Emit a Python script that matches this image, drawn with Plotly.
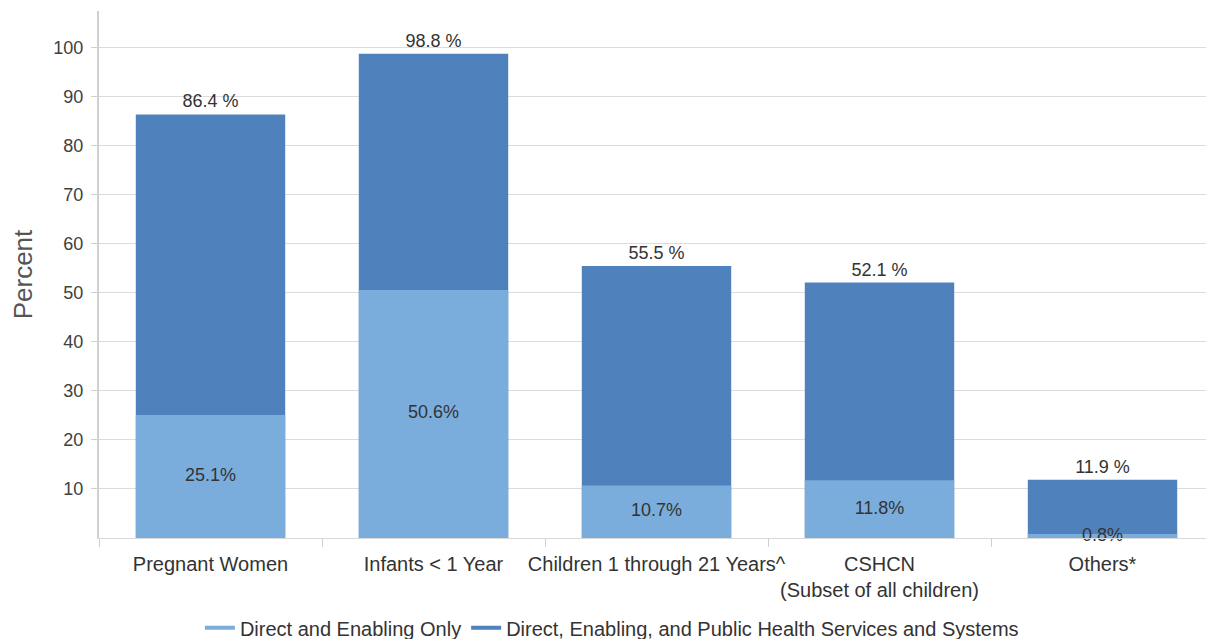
import plotly.graph_objects as go

categories = ["Pregnant Women", "Infants < 1 Year", "Children 1 through 21 Years^",
              "CSHCN<br>(Subset of all children)", "Others*"]
direct_enabling_only = [25.1, 50.6, 10.7, 11.8, 0.8]
total_all_services = [86.4, 98.8, 55.5, 52.1, 11.9]
y_ticks = [10, 20, 30, 40, 50, 60, 70, 80, 90, 100]

light = "#7aaddc"
dark = "#4f81bd"
txt = "#333333"
font_family = "Liberation Sans, Arial, sans-serif"

fig = go.Figure()

# total bars (dark) with labels above
fig.add_trace(go.Bar(
    x=categories, y=total_all_services, marker=dict(color=dark, line=dict(width=0)),
    width=0.67, showlegend=False, text=[f"{v:.1f} %" for v in total_all_services],
    textposition="outside", textfont=dict(size=18, color=txt, family=font_family),
    cliponaxis=False, hoverinfo="skip"))

# direct-only bars (light) overlaid
fig.add_trace(go.Bar(
    x=categories, y=direct_enabling_only, marker=dict(color=light, line=dict(width=0)),
    width=0.67, showlegend=False, hoverinfo="skip"))

# inner labels centered in the light bars
fig.add_trace(go.Scatter(
    x=categories, y=[v / 2 for v in direct_enabling_only], mode="text",
    text=[f"{v:.1f}%" for v in direct_enabling_only],
    textfont=dict(size=18, color=txt, family=font_family), showlegend=False,
    hoverinfo="skip", cliponaxis=False))

# legend entries as line symbols
fig.add_trace(go.Scatter(x=[categories[0]], y=[None], mode="lines",
                         line=dict(color=light, width=4), name="Direct and Enabling Only"))
fig.add_trace(go.Scatter(x=[categories[0]], y=[None], mode="lines",
                         line=dict(color=dark, width=4),
                         name="Direct, Enabling, and Public Health Services and Systems"))

fig.update_layout(
    width=1206, height=639,
    barmode="overlay",
    margin=dict(l=91, r=0, t=3, b=109),
    plot_bgcolor="white", paper_bgcolor="white",
    font=dict(family=font_family, color=txt),
    legend=dict(orientation="h", x=0.46, xanchor="center",
                yref="container", y=0.03, yanchor="middle",
                font=dict(size=20, color=txt), itemwidth=30),
    xaxis=dict(showgrid=False, showline=True, linecolor="#d9d9d9", linewidth=1,
               ticks="outside", tickson="boundaries", ticklen=8, tickcolor="#d0d0d0",
               ticklabelstandoff=8, tickangle=0, automargin=False,
               tickfont=dict(size=20, color=txt)),
    yaxis=dict(range=[0, 107.5], tickvals=y_ticks, showgrid=True, gridcolor="#dcdcdc",
               gridwidth=1, showline=True, linecolor="#d0d0d0", linewidth=2,
               ticks="outside", ticklen=6, tickcolor="#d0d0d0", ticklabelstandoff=4,
               automargin=False,
               tickfont=dict(size=18, color="#404040"), zeroline=False,
               title=dict(text="Percent", font=dict(size=26, color="#555555"), standoff=16)),
)

fig.write_html("out.html")
